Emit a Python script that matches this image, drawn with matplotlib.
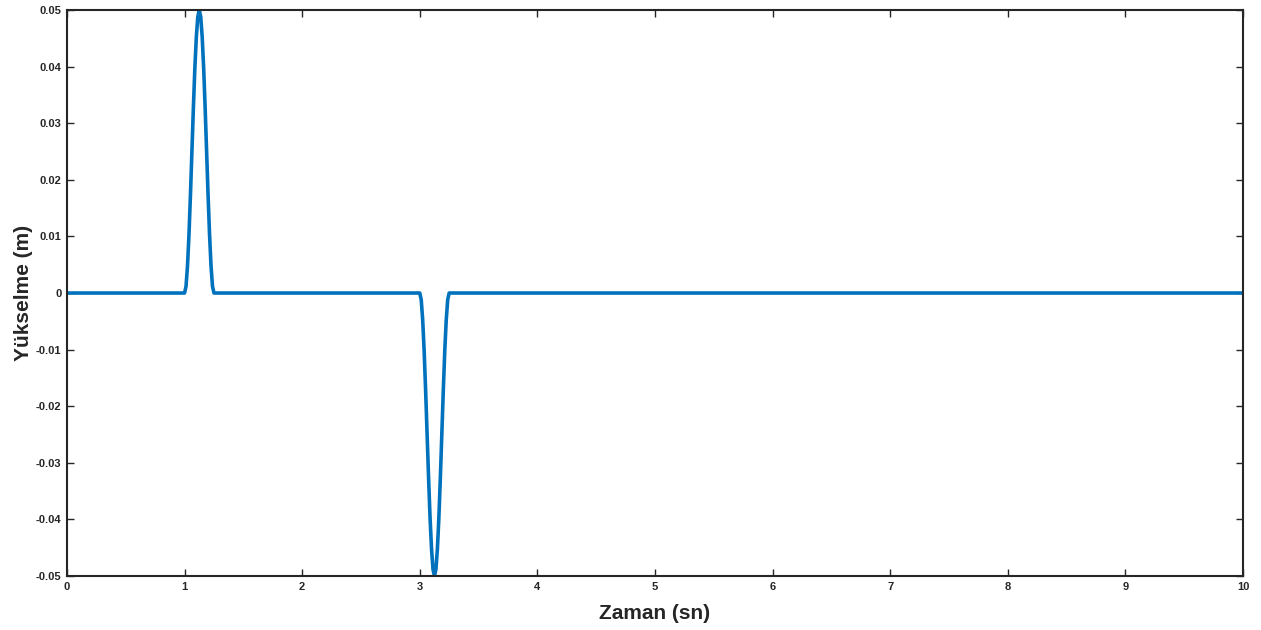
import matplotlib
matplotlib.use("Agg")
from matplotlib import pyplot as plt

# time (s) and elevation (m)
zaman = [0.0, 1.0, 1.0125, 1.025, 1.0375, 1.05, 1.0625, 1.075, 1.0875, 1.1, 1.1125,
         1.125, 1.1375, 1.15, 1.1625, 1.175, 1.1875, 1.2, 1.2125, 1.225, 1.2375, 1.25,
         3.0, 3.0125, 3.025, 3.0375, 3.05, 3.0625, 3.075, 3.0875, 3.1, 3.1125,
         3.125, 3.1375, 3.15, 3.1625, 3.175, 3.1875, 3.2, 3.2125, 3.225, 3.2375, 3.25,
         10.0]
tepe = [0.0, 0.0012, 0.0048, 0.0103, 0.0173, 0.025, 0.0327, 0.0397, 0.0452, 0.0488]
yukselme = ([0.0, 0.0] + tepe[1:] + [0.05] + tepe[::-1][:-1] + [0.0]
            + [0.0] + [-v for v in tepe[1:]] + [-0.05] + [-v for v in tepe[::-1][:-1]] + [0.0]
            + [0.0])

xticks = list(range(0, 11))
yticks = [-0.05, -0.04, -0.03, -0.02, -0.01, 0, 0.01, 0.02, 0.03, 0.04, 0.05]
yticklabels = ['-0.05', '-0.04', '-0.03', '-0.02', '-0.01', '0',
               '0.01', '0.02', '0.03', '0.04', '0.05']

plt.rcParams['font.family'] = ['Liberation Sans', 'DejaVu Sans']
plt.rcParams['font.weight'] = 'bold'

fig = plt.figure(figsize=(12.61, 6.30), dpi=100)
ax = fig.add_axes([0.0531, 0.0857, 0.9326, 0.8984])
ax.plot(zaman, yukselme, color='#0072BD', lw=2.6, solid_joinstyle='round')
ax.set_xlim(0, 10)
ax.set_ylim(-0.05, 0.05)
ax.set_xticks(xticks)
ax.set_xticklabels([str(t) for t in xticks])
ax.set_yticks(yticks)
ax.set_yticklabels(yticklabels)
ax.tick_params(direction='in', length=5, width=1, colors='#262626', labelsize=8,
               top=True, right=True, pad=4)
for s in ax.spines.values():
    s.set_linewidth(1.5)
    s.set_color('#262626')
ax.set_xlabel('Zaman (sn)', fontsize=15, fontweight='bold', color='#262626', labelpad=9)
ax.set_ylabel('Yükselme (m)', fontsize=15, fontweight='bold', color='#262626', labelpad=2)

fig.savefig('out.png', dpi=100)
